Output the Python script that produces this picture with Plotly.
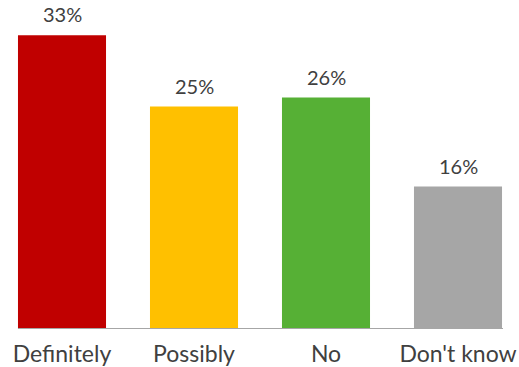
import plotly.graph_objects as go

categories = ["Definitely", "Possibly", "No", "Don't know"]
values = [33, 25, 26, 16]
labels = ["33%", "25%", "26%", "16%"]
colors = ["#C00000", "#FFC000", "#56B035", "#A6A6A6"]

fig = go.Figure()
fig.add_trace(go.Bar(x=list(range(len(categories))), y=values, marker=dict(color=colors, line=dict(width=0)),
                     width=0.667, hoverinfo="skip"))

for i, (v, t) in enumerate(zip(values, labels)):
    fig.add_annotation(x=i, y=v, text=t, showarrow=False, yanchor="bottom", yshift=7,
                       font=dict(family="Lato", size=20, color="#404040"))

fig.add_shape(type="line", xref="x", yref="y", x0=-0.333, x1=3.341, y0=0, y1=0,
              line=dict(color="#A6A6A6", width=2))

fig.update_layout(
    width=519, height=367,
    margin=dict(l=0, r=0, t=0, b=38),
    plot_bgcolor="white", paper_bgcolor="white",
    showlegend=False,
    xaxis=dict(range=[-62/132, 457/132], tickmode="array", tickvals=list(range(len(categories))),
               ticktext=categories, showgrid=False, zeroline=False, showline=False,
               tickfont=dict(family="Lato", size=23, color="#404040"), ticks="",
               ticklabelstandoff=9, automargin=False),
    yaxis=dict(range=[0, 329/8.9], visible=False),
)
fig.write_html("out.html", config={"displayModeBar": False, "staticPlot": True})

with open("out.html", "r", encoding="utf-8") as f:
    html = f.read()
html = html.replace("<body>", '<body style="margin:0;padding:0;">', 1)
with open("out.html", "w", encoding="utf-8") as f:
    f.write(html)
